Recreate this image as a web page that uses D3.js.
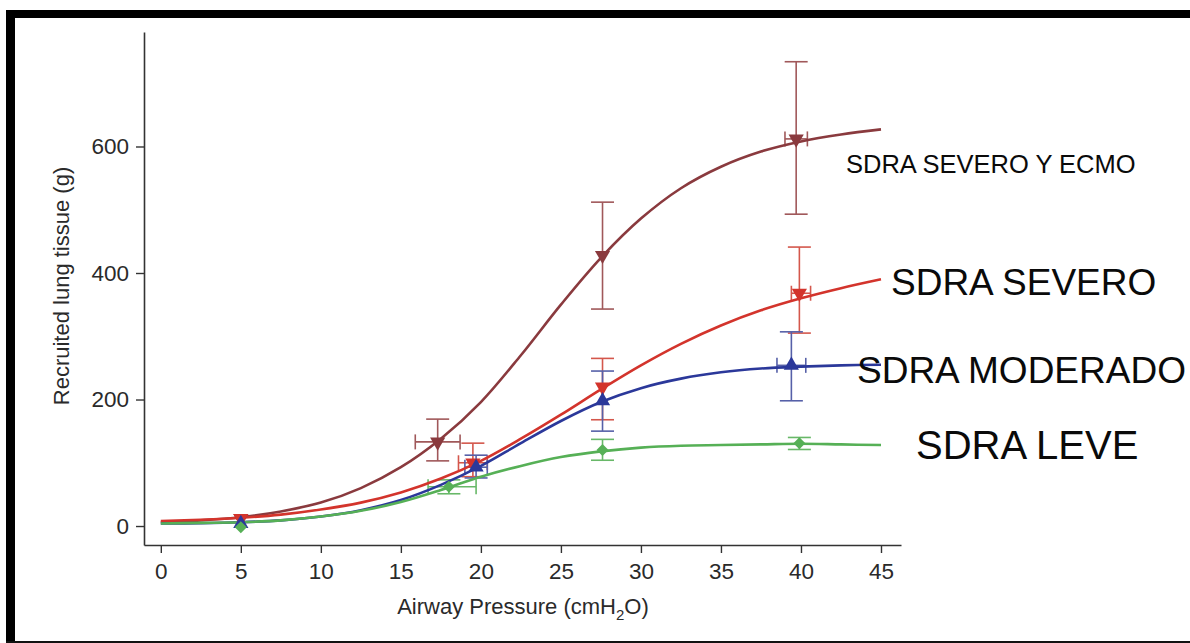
<!DOCTYPE html>
<html>
<head>
<meta charset="utf-8">
<script src="https://cdn.jsdelivr.net/npm/d3@7"></script>
<style>
  body { margin: 0; background: #fff; }
  svg { display: block; font-family: "Liberation Sans", Arial, Helvetica, sans-serif; }
</style>
</head>
<body>
<div id="chart"></div>
<script>
// fitted curves, read every 2.5 cmH2O
const fitX = [0, 2.5, 5, 7.5, 10, 12.5, 15, 17.5, 20, 22.5, 25, 27.5, 30, 32.5, 35, 37.5, 40, 42.5, 45];
const ecmoFit = [6, 9, 14, 23, 37, 60, 93, 138, 196, 270, 350, 424, 486, 534, 568, 592, 608, 619, 627];
const severoFit = [8, 10, 13, 18, 26, 37, 53, 75, 103, 138, 176, 216, 254, 288, 317, 341, 360, 376, 390];
const moderadoFit = [4, 4.5, 6, 9, 15, 25, 41, 65, 95, 131, 166, 196, 218, 233, 243, 249, 252, 254, 255];
const leveFit = [4, 5, 6, 9, 15, 24, 38, 57, 78, 95, 109, 118, 124, 127, 128, 129, 130, 129, 128];

// measured points (mean, error bars)
const ecmoX = [5, 17.3, 27.6, 39.7];
const ecmoY = [12, 133, 428, 612];
const ecmoYLo = [null, 103, 343, 493];
const ecmoYHi = [null, 169, 512, 734];
const ecmoXLo = [null, 15.9, null, 39.0];
const ecmoXHi = [null, 18.7, null, 40.4];

const severoX = [5, 19.5, 27.6, 39.9];
const severoY = [12, 100, 220, 368];
const severoYLo = [null, 78, 168, 305];
const severoYHi = [null, 131, 265, 441];
const severoXLo = [null, 18.6, null, 39.4];
const severoXHi = [null, 20.4, null, 40.6];

const moderadoX = [5, 19.7, 27.6, 39.4];
const moderadoY = [4, 93, 198, 254];
const moderadoYLo = [null, 76, 150, 198];
const moderadoYHi = [null, 112, 245, 307];
const moderadoXLo = [null, 19.0, null, 38.5];
const moderadoXHi = [null, 20.4, null, 40.3];

const leveX = [5, 18, 27.6, 39.9];
const leveY = [-2, 62, 120, 131];
const leveYLo = [null, 51, 104, 121];
const leveYHi = [null, 73, 137, 140];
const leveXLo = [null, 16.7, null, null];
const leveXHi = [null, 19.7, null, null];

const xTicks = [0, 5, 10, 15, 20, 25, 30, 35, 40, 45];
const yTicks = [0, 200, 400, 600];

const series = [
  { name: "ecmo", fit: ecmoFit, x: ecmoX, y: ecmoY, yLo: ecmoYLo, yHi: ecmoYHi, xLo: ecmoXLo, xHi: ecmoXHi,
    color: "#8a3a3e", err: "#a0585a", marker: "down" },
  { name: "severo", fit: severoFit, x: severoX, y: severoY, yLo: severoYLo, yHi: severoYHi, xLo: severoXLo, xHi: severoXHi,
    color: "#d3342c", err: "#d4574c", marker: "down" },
  { name: "moderado", fit: moderadoFit, x: moderadoX, y: moderadoY, yLo: moderadoYLo, yHi: moderadoYHi, xLo: moderadoXLo, xHi: moderadoXHi,
    color: "#2b389a", err: "#5660a8", marker: "up" },
  { name: "leve", fit: leveFit, x: leveX, y: leveY, yLo: leveYLo, yHi: leveYHi, xLo: leveXLo, xHi: leveXHi,
    color: "#56b056", err: "#68b868", marker: "diamond" },
];

const labels = [
  { text: "SDRA SEVERO Y ECMO", x: 846, y: 173, size: 25.5 },
  { text: "SDRA SEVERO", x: 891, y: 295, size: 37 },
  { text: "SDRA MODERADO", x: 857, y: 383, size: 37 },
  { text: "SDRA LEVE", x: 916, y: 459, size: 40 },
];

const width = 1190;
const height = 643;

const svg = d3
  .select("#chart")
  .append("svg")
  .attr("width", width)
  .attr("height", height);

// black photo frame
svg.append("rect").attr("x", 6).attr("y", 10).attr("width", width - 6).attr("height", 8).attr("fill", "#000");
svg.append("rect").attr("x", 6).attr("y", 10).attr("width", 9).attr("height", height - 10).attr("fill", "#000");
svg.append("rect").attr("x", 6).attr("y", 641).attr("width", width - 6).attr("height", 2).attr("fill", "#111");

const x = d3.scaleLinear().domain([-1.05, 46.25]).range([144, 901]);
const y = d3.scaleLinear().domain([-30, 781]).range([545, 32]);

// axes
const xAxis = svg
  .append("g")
  .attr("transform", `translate(0,${y(-30)})`)
  .call(d3.axisBottom(x).tickValues(xTicks).tickSize(8).tickSizeOuter(0).tickPadding(10));

const yAxis = svg
  .append("g")
  .attr("transform", `translate(${x(-1.05)},0)`)
  .call(d3.axisLeft(y).tickValues(yTicks).tickSize(8).tickSizeOuter(0).tickPadding(7));

[xAxis, yAxis].forEach((g) => {
  g.select(".domain").attr("stroke", "#333").attr("stroke-width", 1.6);
  g.selectAll(".tick line").attr("stroke", "#333").attr("stroke-width", 1.4);
  g.selectAll(".tick text")
    .attr("fill", "#2a2a2a")
    .style("font-size", "22.5px")
    .style("font-family", '"Liberation Sans", Arial, sans-serif');
});

// axis titles
svg
  .append("text")
  .attr("transform", "rotate(-90)")
  .attr("x", -286)
  .attr("y", 69)
  .attr("text-anchor", "middle")
  .attr("fill", "#2a2a2a")
  .style("font-size", "22px")
  .text("Recruited lung tissue (g)");

const xTitle = svg
  .append("text")
  .attr("x", 523)
  .attr("y", 614)
  .attr("text-anchor", "middle")
  .attr("fill", "#2a2a2a")
  .style("font-size", "22px");
xTitle.append("tspan").text("Airway Pressure (cmH");
xTitle.append("tspan").attr("dy", 6).style("font-size", "15px").text("2");
xTitle.append("tspan").attr("dy", -6).text("O)");

const line = d3
  .line()
  .x((d) => x(d[0]))
  .y((d) => y(d[1]))
  .curve(d3.curveCatmullRom.alpha(0.5));

const plot = svg.append("g");

// error bars first, then curves, then markers
series.forEach((s) => {
  const pts = s.x.map((px, i) => ({
    x: px, y: s.y[i], yLo: s.yLo[i], yHi: s.yHi[i], xLo: s.xLo[i], xHi: s.xHi[i],
  }));
  const g = plot.append("g").attr("class", `err-${s.name}`);
  const capW = 11.5;
  const capH = 7.5;

  pts.filter((d) => d.yLo !== null).forEach((d) => {
    g.append("line")
      .attr("x1", x(d.x)).attr("x2", x(d.x))
      .attr("y1", y(d.yLo)).attr("y2", y(d.yHi));
    [d.yLo, d.yHi].forEach((v) => {
      g.append("line")
        .attr("x1", x(d.x) - capW).attr("x2", x(d.x) + capW)
        .attr("y1", y(v)).attr("y2", y(v));
    });
  });

  pts.filter((d) => d.xLo !== null).forEach((d) => {
    g.append("line")
      .attr("x1", x(d.xLo)).attr("x2", x(d.xHi))
      .attr("y1", y(d.y)).attr("y2", y(d.y));
    [d.xLo, d.xHi].forEach((v) => {
      g.append("line")
        .attr("x1", x(v)).attr("x2", x(v))
        .attr("y1", y(d.y) - capH).attr("y2", y(d.y) + capH);
    });
  });

  g.selectAll("line").attr("stroke", s.err).attr("stroke-width", 1.6);
});

series.forEach((s) => {
  plot
    .append("path")
    .datum(fitX.map((px, i) => [px, s.fit[i]]))
    .attr("fill", "none")
    .attr("stroke", s.color)
    .attr("stroke-width", 2.6)
    .attr("d", line);
});

series.forEach((s) => {
  const sym =
    s.marker === "diamond"
      ? d3.symbol().type(d3.symbolSquare).size(72)
      : d3.symbol().type(d3.symbolTriangle).size(100);
  const rot = s.marker === "down" ? 180 : s.marker === "diamond" ? 45 : 0;
  plot
    .selectAll(`.mk-${s.name}`)
    .data(s.x.map((px, i) => [px, s.y[i]]))
    .enter()
    .append("path")
    .attr("class", `mk-${s.name}`)
    .attr("d", sym)
    .attr("transform", (d) => `translate(${x(d[0])},${y(d[1])}) rotate(${rot})`)
    .attr("fill", s.color);
});

// group labels
svg
  .selectAll(".group-label")
  .data(labels)
  .enter()
  .append("text")
  .attr("class", "group-label")
  .attr("x", (d) => d.x)
  .attr("y", (d) => d.y)
  .attr("fill", "#0a0a0a")
  .style("font-size", (d) => `${d.size}px`)
  .text((d) => d.text);
</script>
</body>
</html>
